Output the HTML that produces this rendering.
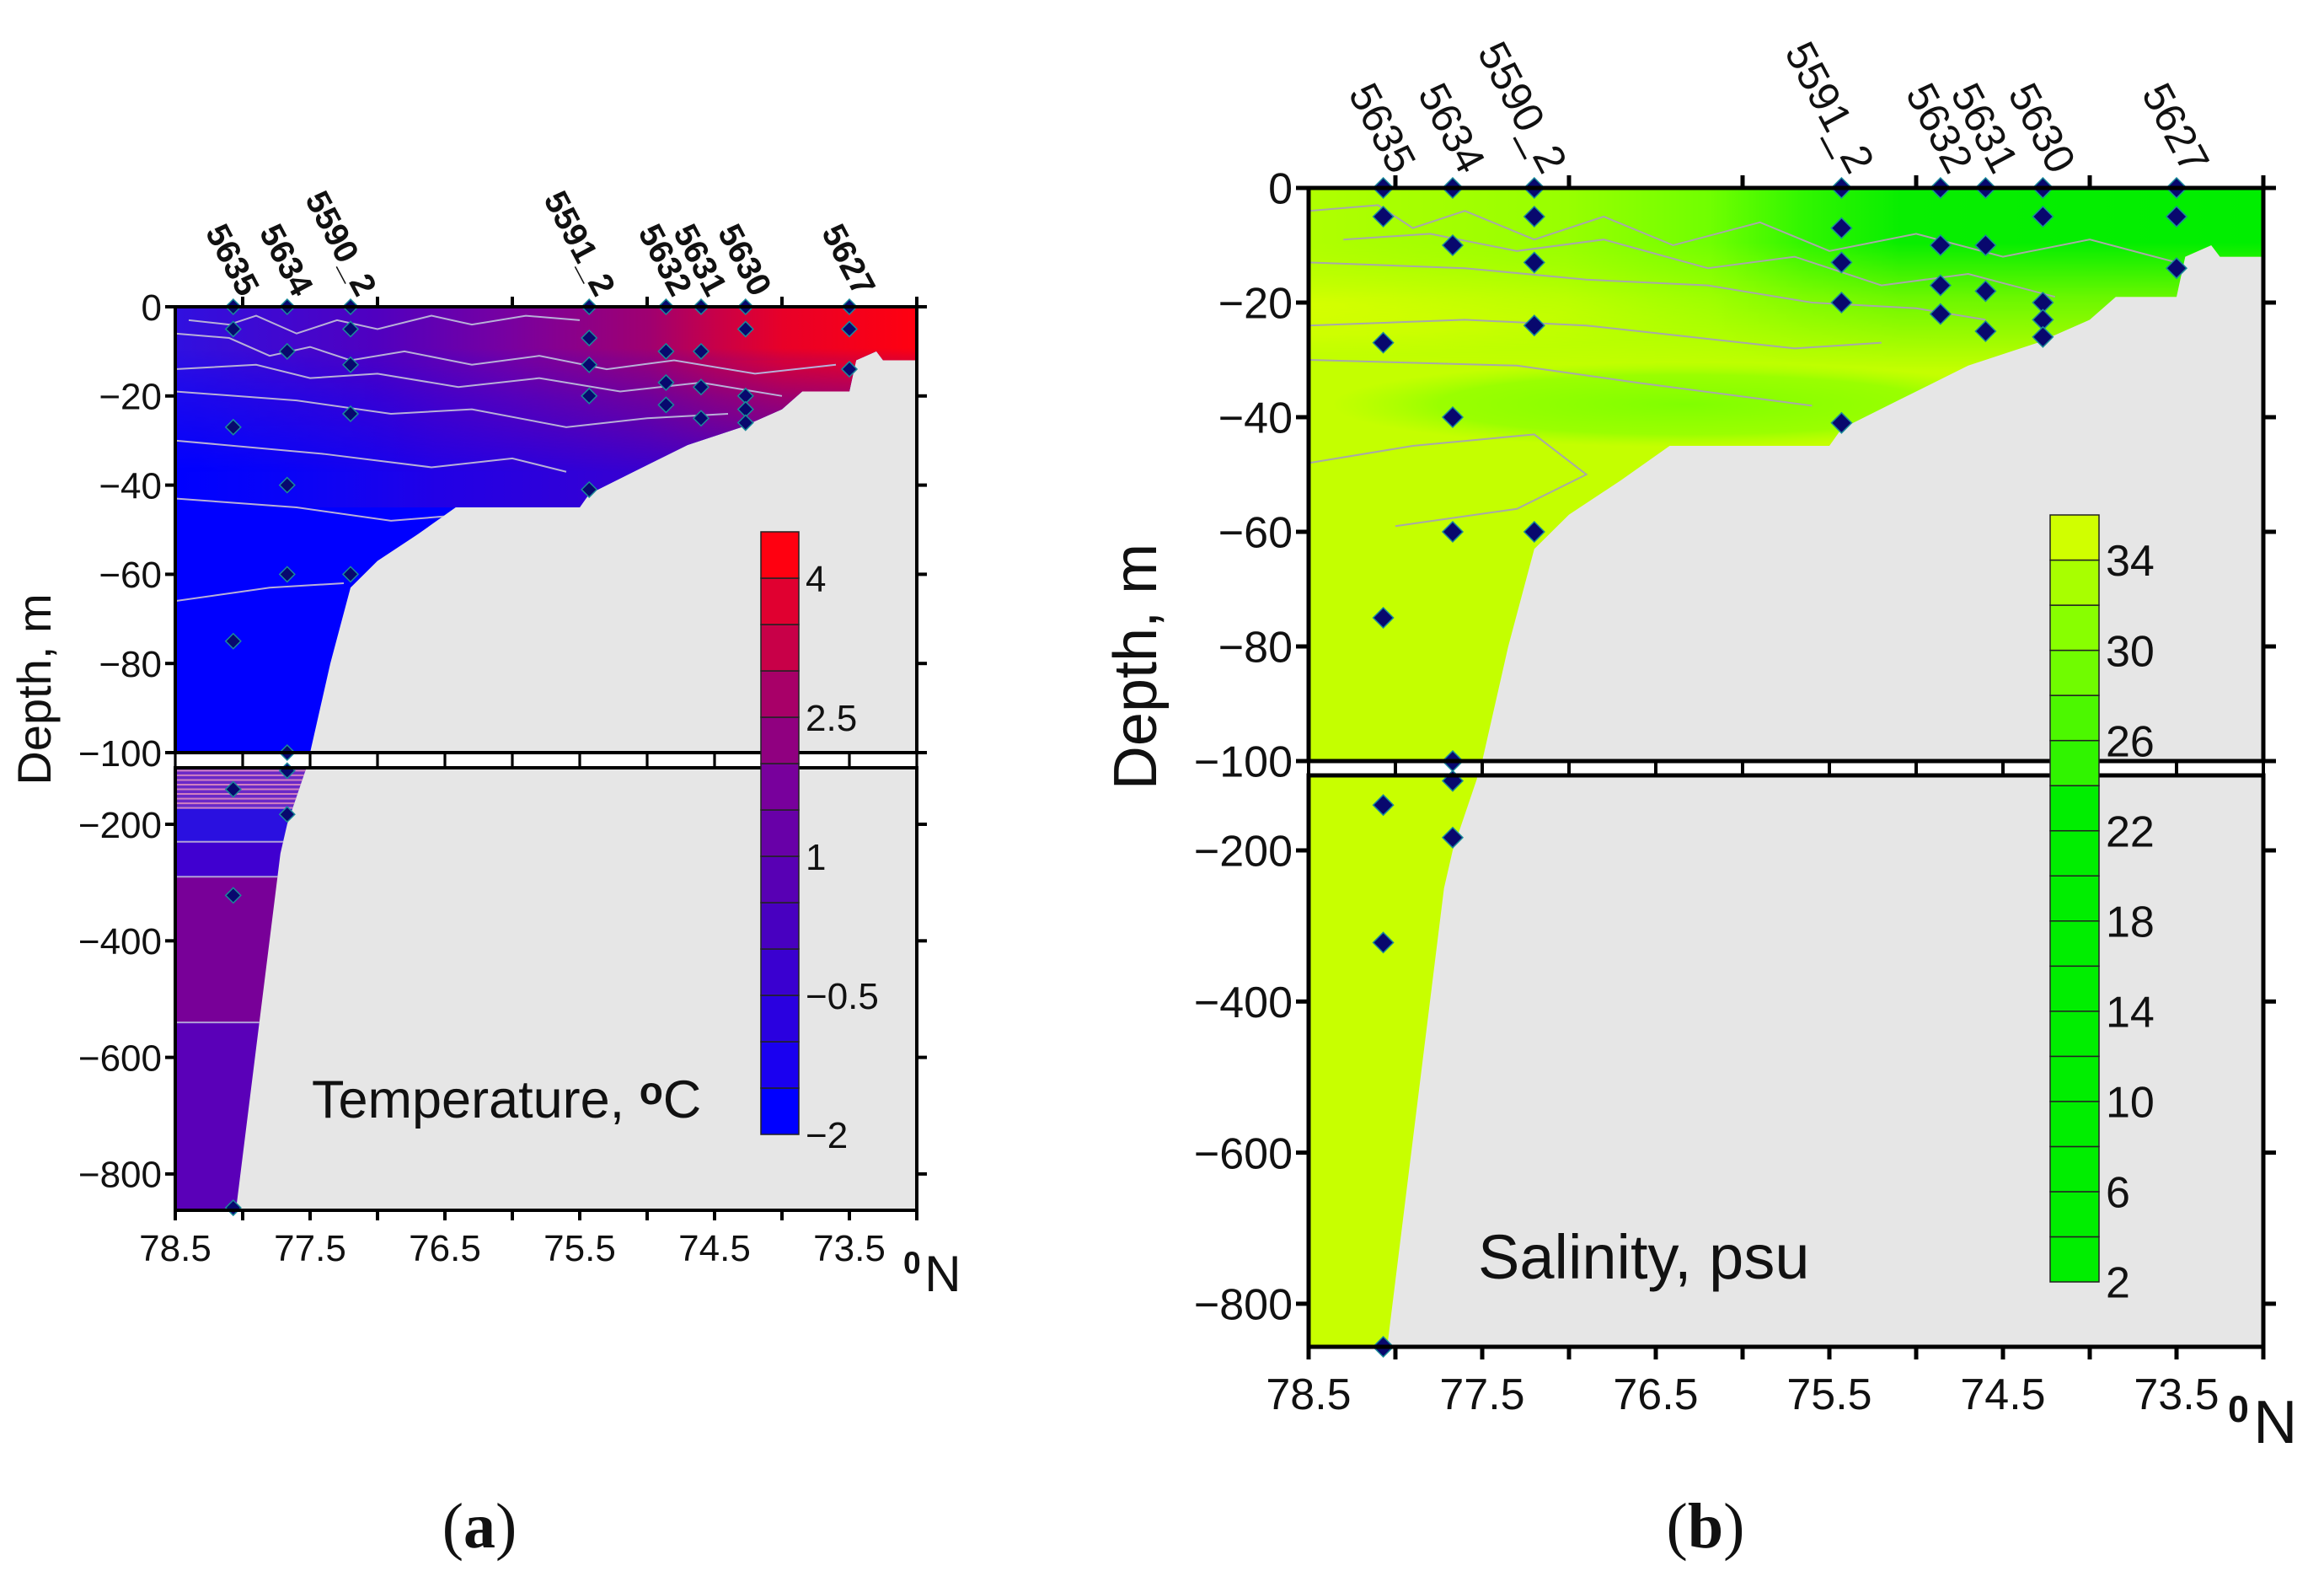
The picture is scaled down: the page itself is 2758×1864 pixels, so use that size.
<!DOCTYPE html>
<html><head><meta charset="utf-8">
<style>
html,body{margin:0;padding:0;background:#fff;}
svg{display:block;font-family:"Liberation Sans",sans-serif;}
</style></head>
<body>
<svg id="fig" width="2758" height="1864" viewBox="0 0 2758 1864" xmlns="http://www.w3.org/2000/svg">
<defs>
<linearGradient id="tTop" x1="208" x2="1088" y1="0" y2="0" gradientUnits="userSpaceOnUse">
<stop offset="0" stop-color="#3010e0"/><stop offset="0.27" stop-color="#5000c0"/><stop offset="0.45" stop-color="#7800a0"/><stop offset="0.64" stop-color="#a00070"/><stop offset="0.73" stop-color="#c80048"/><stop offset="0.82" stop-color="#e80028"/><stop offset="1" stop-color="#ff0010"/></linearGradient>
<linearGradient id="tMaskG" x1="0" x2="0" y1="364" y2="560" gradientUnits="userSpaceOnUse">
<stop offset="0" stop-color="#fff"/><stop offset="0.25" stop-color="#fff"/><stop offset="0.55" stop-color="#888"/><stop offset="1" stop-color="#000"/></linearGradient>
<mask id="tMask" maskUnits="userSpaceOnUse" x="0" y="0" width="2758" height="1864"><rect x="200" y="364" width="900" height="200" fill="url(#tMaskG)"/></mask>
<linearGradient id="tMid" x1="208" x2="1088" y1="0" y2="0" gradientUnits="userSpaceOnUse">
<stop offset="0" stop-color="#1010f0" stop-opacity="0"/><stop offset="0.35" stop-color="#2a00e0" stop-opacity="0.8"/><stop offset="0.8" stop-color="#4800c0" stop-opacity="1"/></linearGradient>
<linearGradient id="sTop" x1="1553" x2="2686" y1="0" y2="0" gradientUnits="userSpaceOnUse">
<stop offset="0" stop-color="#b0ff00"/><stop offset="0.27" stop-color="#98ff00"/><stop offset="0.42" stop-color="#70ff00"/><stop offset="0.52" stop-color="#30f600"/><stop offset="0.62" stop-color="#08ee00"/><stop offset="1" stop-color="#00ee00"/></linearGradient>
<linearGradient id="sMaskG" x1="0" x2="0" y1="223" y2="440" gradientUnits="userSpaceOnUse">
<stop offset="0" stop-color="#fff"/><stop offset="0.3" stop-color="#fff"/><stop offset="0.6" stop-color="#777"/><stop offset="1" stop-color="#000"/></linearGradient>
<mask id="sMask" maskUnits="userSpaceOnUse" x="0" y="0" width="2758" height="1864"><rect x="1540" y="223" width="1160" height="220" fill="url(#sMaskG)"/></mask>
<radialGradient id="sCore" cx="1553" cy="360" r="520" gradientTransform="matrix(1 0 0 0.12 0 316.8)" gradientUnits="userSpaceOnUse">
<stop offset="0" stop-color="#f0ff00"/><stop offset="0.6" stop-color="#dcff00" stop-opacity="0.8"/><stop offset="1" stop-color="#d0ff00" stop-opacity="0"/></radialGradient>
<radialGradient id="sMid" cx="2000" cy="480" r="420" gradientTransform="matrix(1 0 0 0.12 0 422.4)" gradientUnits="userSpaceOnUse">
<stop offset="0" stop-color="#80ff00"/><stop offset="0.7" stop-color="#90ff00" stop-opacity="0.8"/><stop offset="1" stop-color="#a0ff00" stop-opacity="0"/></radialGradient>
</defs>
</svg>
<script>
// ---- data ----
const stationNames = ["5635","5634","5590_2","5591_2","5632","5631","5630","5627"];
const stationLat = [78.07,77.67,77.2,75.43,74.86,74.6,74.27,73.5];
const stationDepths = [[0,-5,-27,-75,-140,-322,-858],[0,-10,-40,-60,-100,-108,-183],[0,-5,-13,-24,-60],[0,-7,-13,-20,-41],[0,-10,-17,-22],[0,-10,-18,-25],[0,-5,-20,-23,-26],[0,-5,-14]];
const upperDepthTicks = [0,-20,-40,-60,-80,-100];
const lowerDepthTicks = [-200,-400,-600,-800];
const latLabels = [78.5,77.5,76.5,75.5,74.5,73.5];
const latMinorTicks = [78.5,78,77.5,77,76.5,76,75.5,75,74.5,74,73.5,73];
const latTopTicks = [78,77,76,75,74,73];
// data-region outline (lat, depth)
const upperOutline = [[78.5,0],[73.0,0],[73.0,-12],[73.25,-12],[73.3,-10],[73.45,-12],[73.5,-19],[73.85,-19],[74.0,-23],[74.3,-27],[74.7,-31],[75.1,-37],[75.43,-42],[75.5,-45],[76.42,-45],[76.7,-51],[77.0,-57],[77.2,-63],[77.35,-80],[77.5,-100],[78.5,-100]];
const lowerOutline = [[78.5,-100],[77.53,-100],[77.53,-105],[77.67,-200],[77.72,-250],[78.05,-862],[78.5,-862]];
// temperature lower-panel layers: [top depth, bottom depth, color]
const tempLowerTop = [-100,-170,-230,-290,-540];
const tempLowerBot = [-170,-230,-290,-540,-862];
const tempLowerCol = ["#6a28c8","#2a10e0","#4000d0","#780098","#5a00b8"];
// temperature contour lines (lat, depth)
const tempContours = [
 [[78.4,-3],[78.1,-4],[77.9,-2],[77.6,-6],[77.3,-3],[77.0,-5],[76.6,-2],[76.3,-4],[75.9,-2],[75.5,-3]],
 [[78.5,-6],[78.1,-7],[77.8,-11],[77.5,-9],[77.2,-12],[76.8,-10],[76.3,-13],[75.8,-11],[75.3,-14],[74.8,-12],[74.2,-15],[73.6,-13]],
 [[78.5,-14],[77.9,-13],[77.5,-16],[77.0,-15],[76.4,-18],[75.8,-16],[75.2,-19],[74.6,-17],[74.0,-20]],
 [[78.5,-19],[77.6,-21],[76.9,-24],[76.3,-23],[75.6,-27],[75.0,-25],[74.4,-24]],
 [[78.5,-30],[77.4,-33],[76.6,-36],[76.0,-34],[75.6,-37]],
 [[78.5,-43],[77.6,-45],[76.9,-48],[76.5,-47]],
 [[78.5,-66],[77.8,-63],[77.25,-62]]
];
const salContours = [
 [[78.5,-4],[78.1,-3],[77.9,-7],[77.6,-4],[77.2,-9],[76.8,-5],[76.4,-10],[75.9,-6],[75.5,-11],[75.0,-8],[74.5,-12],[74.0,-9],[73.5,-13]],
 [[78.3,-9],[77.8,-8],[77.3,-11],[76.8,-9],[76.2,-14],[75.7,-12],[75.2,-17],[74.7,-15],[74.2,-19]],
 [[78.5,-13],[77.6,-14],[76.9,-16],[76.2,-17],[75.6,-20],[75.0,-21],[74.6,-23]],
 [[78.5,-24],[77.6,-23],[76.9,-24],[76.3,-26],[75.7,-28],[75.2,-27]],
 [[78.5,-30],[77.3,-31],[76.6,-34],[76.1,-36],[75.6,-38]],
 [[78.5,-48],[77.9,-45],[77.2,-43],[76.9,-50],[77.3,-56],[78.0,-59]]
];
// colorbars
const tempBarLevels = [-2,-1.5,-1,-0.5,0,0.5,1,1.5,2,2.5,3,3.5,4,4.5];
const tempBarColors = ["#0000ff","#1a00f0","#2a00e0","#3a00d0","#4800c0","#5800b4","#6800a8","#78009c","#900080","#a80068","#c80048","#e00030","#ff0010"];
const tempBarLabels = [-2,-0.5,1,2.5,4];
const salBarLevels = [2,4,6,8,10,12,14,16,18,20,22,24,26,28,30,32,34,36];
const salBarColors = ["#00ee00","#00ee00","#00ee00","#00ee00","#00ee00","#00ee00","#00ee00","#00ee00","#00ee00","#00ee00","#00ee00","#30f400","#4cf800","#70fc00","#88ff00","#a8ff00","#d0ff00"];
const salBarLabels = [2,6,10,14,18,22,26,30,34];

const NS="http://www.w3.org/2000/svg";
const svg=document.getElementById('fig');
function mk(tag,attrs,parent){const e=document.createElementNS(NS,tag);for(const k in attrs)e.setAttribute(k,attrs[k]);(parent||svg).appendChild(e);return e;}

function panel(P){
  const g=mk('g',{});
  
  
  const X=lat=>P.x0+(78.5-lat)*P.degPx;
  const YU=d=>P.yTop-d*P.upPx;
  const YL=d=>P.lowRef+(-200-d)*P.lowPx/200;
  const Y=d=>d>=-100?YU(d):YL(d);
  const bgU=mk('rect',{x:P.x0,y:P.yTop,width:P.x1-P.x0,height:P.yBrk-P.yTop,fill:'#e6e6e6'},g);
  
  const bgL=mk('rect',{x:P.x0,y:P.yLow,width:P.x1-P.x0,height:P.yBot-P.yLow,fill:'#e6e6e6'},g);
  
  const cid=P.id+'clipU';
  const cp=mk('clipPath',{id:cid},g);
  mk('polygon',{points:upperOutline.map(p=>X(p[0])+','+YU(p[1])).join(' ')},cp);
  const ug=mk('g',{'clip-path':'url(#'+cid+')'},g);
  
  mk('rect',{x:P.x0,y:P.yTop,width:P.x1-P.x0,height:P.yBrk-P.yTop,fill:P.base},ug);
  P.upperLayers(ug,X,YU);
  P.contours.forEach(c=>{
    const l=mk('polyline',{points:c.map(p=>X(p[0])+','+YU(p[1])).join(' '),fill:'none',stroke:P.contourCol,'stroke-width':2},ug);
    
  });
  const cid2=P.id+'clipL';
  const cp2=mk('clipPath',{id:cid2},g);
  mk('polygon',{points:lowerOutline.map(p=>X(p[0])+','+Math.max(P.yLow,YL(p[1]))).join(' ')},cp2);
  const lg=mk('g',{'clip-path':'url(#'+cid2+')'},g);
  
  P.lowerLayers(lg,X,YL);
  stationLat.forEach((lat,i)=>{
    stationDepths[i].forEach(d=>{
      const x=X(lat),y=Math.min(Y(d),P.yBot);const s=P.mk;
      const m=mk('polygon',{points:`${x},${y-s} ${x+s},${y} ${x},${y+s} ${x-s},${y}`,fill:'#08086e',stroke:'#1a8a9a','stroke-width':1.5},g);
      
    });
  });
  const fs={fill:'none',stroke:'#000','stroke-width':P.lw};
  const f1=mk('rect',Object.assign({x:P.x0,y:P.yTop,width:P.x1-P.x0,height:P.yBrk-P.yTop},fs),g);
  
  const f2=mk('rect',Object.assign({x:P.x0,y:P.yLow,width:P.x1-P.x0,height:P.yBot-P.yLow},fs),g);
  
  const tk=P.tick;
  upperDepthTicks.forEach(d=>{
    const y=YU(d);
    mk('line',{x1:P.x0-tk,x2:P.x0,y1:y,y2:y,stroke:'#000','stroke-width':P.lw},g);
    mk('line',{x1:P.x1,x2:P.x1+tk,y1:y,y2:y,stroke:'#000','stroke-width':P.lw},g);
    const t=mk('text',{x:P.x0-tk-4,y:y+P.fs*0.36,'font-size':P.fs,'text-anchor':'end',fill:'#111'},g);
    t.textContent=d===0?'0':'\u2212'+Math.abs(d);
    
  });
  lowerDepthTicks.forEach(d=>{
    const y=YL(d);
    mk('line',{x1:P.x0-tk,x2:P.x0,y1:y,y2:y,stroke:'#000','stroke-width':P.lw},g);
    mk('line',{x1:P.x1,x2:P.x1+tk,y1:y,y2:y,stroke:'#000','stroke-width':P.lw},g);
    const t=mk('text',{x:P.x0-tk-4,y:y+P.fs*0.36,'font-size':P.fs,'text-anchor':'end',fill:'#111'},g);
    t.textContent='\u2212'+Math.abs(d);
    
  });
  latMinorTicks.forEach(l=>{
    const x=X(l);
    mk('line',{x1:x,x2:x,y1:P.yBot,y2:P.yBot+tk,stroke:'#000','stroke-width':P.lw},g);
    mk('line',{x1:x,x2:x,y1:P.yBrk,y2:P.yLow,stroke:'#000','stroke-width':P.lw*0.8},g);
  });
  latTopTicks.forEach(l=>{const x=X(l);mk('line',{x1:x,x2:x,y1:P.yTop-tk,y2:P.yTop,stroke:'#000','stroke-width':P.lw},g);});
  latLabels.forEach(l=>{
    const t=mk('text',{x:X(l),y:P.xLabY,'font-size':P.fs,'text-anchor':'middle',fill:'#111'},g);
    t.textContent=l.toFixed(1);
    
  });
  const u0=mk('text',{x:P.unitX,y:P.unitY-P.unitFs*0.35,'font-size':P.unitFs*0.62,'font-weight':'bold',fill:'#111'},g);
  u0.textContent='0';
  const uN=mk('text',{x:P.unitX+P.unitFs*0.42,y:P.unitY,'font-size':P.unitFs,fill:'#111'},g);
  uN.textContent='N';
  stationNames.forEach((n,i)=>{
    const x=X(stationLat[i])+P.stDx,y=P.yTop-P.stDy;
    const t=mk('text',{x:x,y:y,'font-size':P.stFs,'text-anchor':'end',fill:'#111',transform:`rotate(62 ${x} ${y})`,'font-weight':P.stW},g);
    t.textContent=n;
    
  });
  const yt=mk('text',{x:P.ytX,y:P.ytY,'font-size':P.ytFs,'text-anchor':'middle',fill:'#111',transform:`rotate(-90 ${P.ytX} ${P.ytY})`},g);
  yt.textContent='Depth, m';
  const cb=mk('g',{},g);
  
  const lv=P.barLevels,lo=lv[0],hi=lv[lv.length-1];
  const CY=v=>P.cbBot-(v-lo)/(hi-lo)*(P.cbBot-P.cbTop);
  P.barColors.forEach((c,i)=>{
    const r=mk('rect',{x:P.cbX,y:CY(lv[i+1]),width:P.cbW,height:CY(lv[i])-CY(lv[i+1]),fill:c,stroke:'#222','stroke-width':1.5},cb);
    
  });
  P.barLabels.forEach(v=>{
    const t=mk('text',{x:P.cbX+P.cbW+8,y:CY(v)+P.fs*0.36,'font-size':P.fs,fill:'#111'},cb);
    t.textContent=v<0?'\u2212'+Math.abs(v):String(v);
    
  });
  const tt=mk('text',{x:P.tX,y:P.tY,'font-size':P.tFs,fill:'#111'},g);
  
  tt.innerHTML=P.title;
  const pl=mk('text',{x:P.letterX,y:1836,'font-size':76,'text-anchor':'middle',fill:'#111','font-family':'Liberation Serif, serif'},svg);
  pl.innerHTML='(<tspan font-weight="bold">'+P.letter+'</tspan>)';
  
}

panel({id:'a',name:'temperature-panel',x0:208,x1:1088,degPx:160,yTop:364,upPx:5.29,yBrk:893,yLow:911,lowRef:978,lowPx:138.3,yBot:1436,
 base:'#0000ff',contourCol:'#b8b0d8',mk:9,lw:4,tick:12,fs:44,xLabY:1496,unitX:1072,unitY:1532,unitFs:60,
 stDx:8,stDy:10,stFs:40,stW:'bold',ytX:60,ytY:818,ytFs:56,
 barLevels:tempBarLevels,barColors:tempBarColors,barLabels:tempBarLabels,cbX:903,cbW:45,cbTop:631,cbBot:1346,
 tX:370,tY:1326,tFs:63,title:'Temperature, <tspan font-weight="bold" font-size="46" dy="-16">o</tspan><tspan dy="16">C</tspan>',letter:'a',letterX:569,
 contours:tempContours,
 upperLayers:(g,X,Y)=>{
   mk('rect',{x:208,y:Y(-12),width:880,height:Y(-45)-Y(-12),fill:'url(#tMid)'},g);
   mk('rect',{x:208,y:364,width:880,height:200,fill:'url(#tTop)',mask:'url(#tMask)'},g);
 },
 lowerLayers:(g,X,Y)=>{
   tempLowerTop.forEach((d,i)=>{
     const r=mk('rect',{x:208,y:Y(d),width:880,height:Y(tempLowerBot[i])-Y(d),fill:tempLowerCol[i]},g);
     
   });
   for(let d=-108;d>-175;d-=8){mk('line',{x1:208,x2:1088,y1:Y(d),y2:Y(d),stroke:'#d080c0','stroke-width':2},g);}
   [-230,-290,-540].forEach(d=>mk('line',{x1:208,x2:1088,y1:Y(d),y2:Y(d),stroke:'#b0a0d8','stroke-width':2},g));
 }
});

panel({id:'b',name:'salinity-panel',x0:1553,x1:2686,degPx:206,yTop:223,upPx:6.8,yBrk:903,yLow:920,lowRef:1009,lowPx:179.3,yBot:1598,
 base:'#c4ff00',contourCol:'#a8a8a8',mk:12,lw:5,tick:15,fs:52,xLabY:1672,unitX:2644,unitY:1712,unitFs:72,
 stDx:10,stDy:14,stFs:50,stW:'normal',ytX:1372,ytY:791,ytFs:72,
 barLevels:salBarLevels,barColors:salBarColors,barLabels:salBarLabels,cbX:2433,cbW:58,cbTop:611,cbBot:1521,
 tX:1754,tY:1517,tFs:74,title:'Salinity, psu',letter:'b',letterX:2024,
 contours:salContours,
 upperLayers:(g,X,Y)=>{
   mk('rect',{x:1553,y:223,width:1133,height:520,fill:'url(#sMid)'},g);
   mk('rect',{x:1553,y:223,width:1133,height:360,fill:'url(#sCore)'},g);
   mk('rect',{x:1553,y:223,width:1133,height:220,fill:'url(#sTop)',mask:'url(#sMask)'},g);
 },
 lowerLayers:(g,X,Y)=>{
   const r=mk('rect',{x:1553,y:920,width:1133,height:680,fill:'#c8ff00'},g);
   
 }
});
</script>
</body></html>
